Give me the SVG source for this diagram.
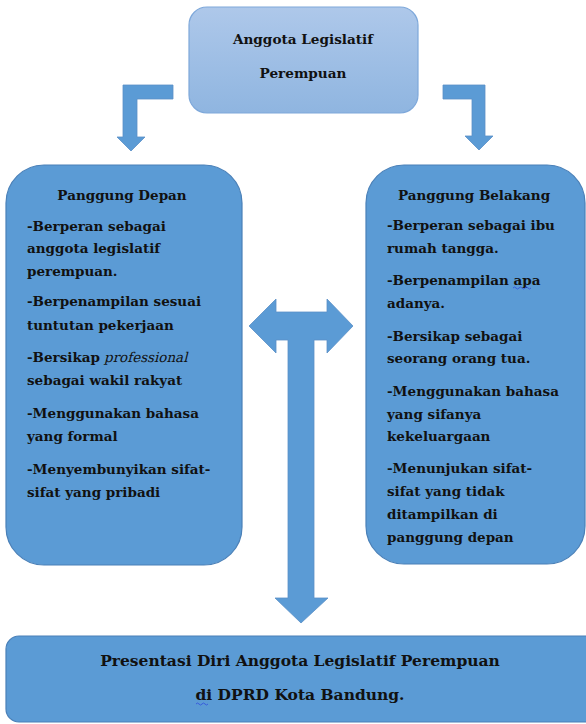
<svg xmlns="http://www.w3.org/2000/svg" width="586" height="724" viewBox="0 0 586 724">
<defs>
<linearGradient id="gTop" x1="0" y1="0" x2="0" y2="1">
<stop offset="0" stop-color="#aec8ea"/>
<stop offset="1" stop-color="#8fb5e0"/>
</linearGradient>
</defs>
<style>
.box{fill:#5b9bd5;stroke:#4a80b8;stroke-width:1.2}
.arr{fill:#5b9bd5;stroke:#5a8fc6;stroke-width:0.8}
text{font-family:"DejaVu Serif","Liberation Serif",serif;font-weight:bold;fill:#111}
.t{font-size:13.5px}
.c{text-anchor:middle}
.it{font-weight:normal}
.sq{fill:none;stroke:#3355dd;stroke-width:0.9}
</style>
<rect width="586" height="724" fill="#ffffff"/>
<g id="connectors">
<path class="arr" d="M173,85 L123,85 L123,137 L117,137 L131,151 L145,137 L137,137 L137,99 L173,99 Z"/>
<path class="arr" d="M443,85 L485,85 L485,136 L493,136 L479,150 L465,136 L472,136 L472,99 L443,99 Z"/>
<path class="arr" d="M249,326 L276,299 L276,312 L327,312 L327,299 L353,326 L327,353 L327,340 L314,340 L314,598 L328,598 L301,623 L275,598 L288,598 L288,340 L276,340 L276,353 Z"/>
</g>
<g id="top">
<rect x="189" y="7" width="229" height="106" rx="18" fill="url(#gTop)" stroke="#7ea8da" stroke-width="1.2"/>
<text class="c" x="303" y="44" font-size="13.6">Anggota Legislatif</text>
<text class="c" x="303" y="78" font-size="13.6">Perempuan</text>
</g>
<g id="depan">
<rect class="box" x="6" y="165" width="236" height="400" rx="38"/>
<text class="c t" x="122" y="200">Panggung Depan</text>
<text class="t" x="27" y="231">-Berperan sebagai</text>
<text class="t" x="27" y="253">anggota legislatif</text>
<text class="t" x="27" y="276">perempuan.</text>
<text class="t" x="27" y="306">-Berpenampilan sesuai</text>
<text class="t" x="27" y="330">tuntutan pekerjaan</text>
<text class="t" x="27" y="362">-Bersikap</text>
<text class="t it" transform="translate(104,362) skewX(-14)">professional</text>
<text class="t" x="27" y="385">sebagai wakil rakyat</text>
<text class="t" x="27" y="418">-Menggunakan bahasa</text>
<text class="t" x="27" y="441">yang formal</text>
<text class="t" x="27" y="474">-Menyembunyikan sifat-</text>
<text class="t" x="27" y="497">sifat yang pribadi</text>
</g>
<g id="belakang">
<rect class="box" x="366" y="165" width="219" height="399" rx="38"/>
<text class="c t" x="474" y="200">Panggung Belakang</text>
<text class="t" x="387" y="230">-Berperan sebagai ibu</text>
<text class="t" x="387" y="253">rumah tangga.</text>
<text class="t" x="387" y="285">-Berpenampilan apa</text>
<path class="sq" d="M513,288 q1.5,-2 3,0 t3,0 t3,0 t3,0 t3,0 t3,0"/>
<text class="t" x="387" y="308">adanya.</text>
<text class="t" x="387" y="341">-Bersikap sebagai</text>
<text class="t" x="387" y="363">seorang orang tua.</text>
<text class="t" x="387" y="396">-Menggunakan bahasa</text>
<text class="t" x="387" y="419">yang sifanya</text>
<text class="t" x="387" y="441">kekeluargaan</text>
<text class="t" x="387" y="473">-Menunjukan sifat-</text>
<text class="t" x="387" y="496">sifat yang tidak</text>
<text class="t" x="387" y="519">ditampilkan di</text>
<text class="t" x="387" y="542">panggung depan</text>
</g>
<g id="bottom">
<rect class="box" x="6" y="636" width="600" height="86" rx="13"/>
<text class="c" x="300" y="666" font-size="15.5">Presentasi Diri Anggota Legislatif Perempuan</text>
<text class="c" x="300" y="700" font-size="15.5">di DPRD Kota Bandung.</text>
<path class="sq" d="M196,704 q1.5,-2 3,0 t3,0 t3,0 t3,0"/>
</g>
</svg>
